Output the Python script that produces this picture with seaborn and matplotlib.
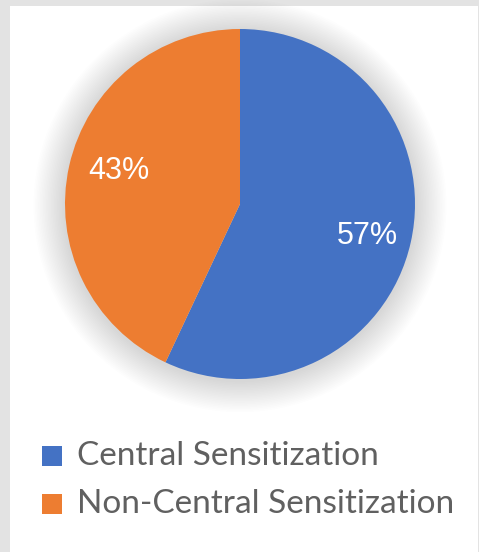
import matplotlib
matplotlib.use("Agg")
import matplotlib.pyplot as plt
import seaborn as sns
from matplotlib.patches import Rectangle, Circle

categories = ["Central Sensitization", "Non-Central Sensitization"]
values = [57, 43]
pct_labels = ["57%", "43%"]
colors = ["#4472C4", "#ED7D31"]

sns.set_theme(style="white")
W, H = 479, 552
fig = plt.figure(figsize=(W / 100, H / 100), dpi=100)
fig.patch.set_facecolor("#e3e3e3")
fig.patches.append(Rectangle((10 / W, 0), (478 - 10) / W, (H - 6) / H,
                             transform=fig.transFigure, facecolor="white",
                             edgecolor="none", zorder=-10))

cx, cy, r = 240, 204, 175
lim = 1.35
half = r * lim
ax = fig.add_axes([(cx - half) / W, (H - cy - half) / H, 2 * half / W, 2 * half / H])
ax.patch.set_alpha(0)

# soft shadow
for i in range(20):
    rr = 1.0 + 0.009 * (i + 1)
    ax.add_patch(Circle((0, -0.01), rr, facecolor="#000000", alpha=0.006,
                        edgecolor="none", zorder=0))

wedges, _ = ax.pie(values, colors=colors, startangle=90, counterclock=False,
                   radius=1.0, wedgeprops=dict(linewidth=0))
for w in wedges:
    w.set_zorder(2)
ax.set_xlim(-lim, lim)
ax.set_ylim(-lim, lim)
ax.set_aspect("equal")
ax.axis("off")

label_pos = [(367, 236), (119, 171)]
for (px, py), t in zip(label_pos, pct_labels):
    fig.text(px / W, 1 - py / H, t, color="white", fontsize=22,
             family=["Liberation Sans Narrow", "Liberation Sans"],
             ha="center", va="center")

leg_y = [456, 504]
for (yy, lab, c) in zip(leg_y, categories, colors):
    fig.patches.append(Rectangle((42 / W, 1 - (yy + 10) / H), 20 / W, 20 / H,
                                 transform=fig.transFigure, facecolor=c,
                                 edgecolor="none", zorder=3))
    fig.text(77 / W, 1 - yy / H, lab, color="#606060", fontsize=24,
             family="Lato", ha="left", va="center")

fig.savefig("out.png", dpi=100, facecolor=fig.get_facecolor())
